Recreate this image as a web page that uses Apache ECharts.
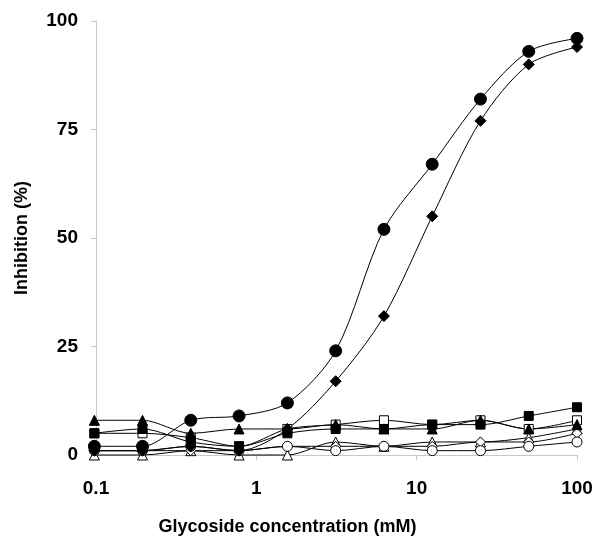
<!DOCTYPE html>
<html>
<head>
<meta charset="utf-8">
<script src="https://cdn.jsdelivr.net/npm/echarts@6/dist/echarts.min.js"></script>
<style>html,body{margin:0;padding:0;background:#fff;}#c{width:600px;height:542px;}</style>
</head>
<body>
<div id="c"></div>
<script>
var concentrations = [0.0977, 0.195, 0.39, 0.78, 1.5625, 3.125, 6.25, 12.5, 25, 50, 100];
var filledTriangle = [8, 8, 5, 6, 6, 7, 6, 6, 8, 6, 7];
var filledSquare   = [5, 6, 3, 2, 5, 6, 6, 7, 7, 9, 11];
var openSquare     = [5, 5, 4, 2, 6, 7, 8, 7, 8, 6, 8];
var openTriangle   = [0, 0, 1, 0, 0, 3, 2, 3, 3, 4, 6];
var openDiamond    = [1, 1, 1, 1, 2, 2, 2, 2, 3, 3, 5];
var openCircle     = [1, 1, 2, 1, 2, 1, 2, 1, 1, 2, 3];
var filledDiamond  = [1, 1, 2, 1, 6, 17, 32, 55, 77, 90, 94];
var filledCircle   = [2, 2, 8, 9, 12, 24, 52, 67, 82, 93, 96];
var yTicks = [0, 25, 50, 75, 100];

function pairs(vals) { return concentrations.map(function (x, i) { return [x, vals[i]]; }); }
function mk(name, vals, symbol, size, filled) {
  return {
    name: name, type: 'line', data: pairs(vals), smooth: 0.3, clip: false,
    symbol: symbol, symbolSize: size, showSymbol: true,
    lineStyle: { color: '#000', width: 1 },
    itemStyle: { color: filled ? '#000' : '#fff', borderColor: '#000', borderWidth: 1 },
    emphasis: { disabled: true }
  };
}
var chart = echarts.init(document.getElementById('c'), null, { renderer: 'canvas' });
var FONT = 'Liberation Sans, Arial, sans-serif';
var labelFont = { color: '#000', fontWeight: 'bold', fontSize: 19, fontFamily: FONT };
chart.setOption({
  animation: false,
  backgroundColor: '#fff',
  grid: { left: 96, right: 23, top: 21, bottom: 87 },
  xAxis: {
    type: 'log', logBase: 10, min: 0.1, max: 100,
    name: 'Glycoside concentration (mM)', nameLocation: 'middle', nameGap: 63,
    nameTextStyle: { color: '#000', fontWeight: 'bold', fontSize: 18, fontFamily: FONT, padding: [0, 98, 0, 0] },
    axisLine: { lineStyle: { color: '#c8c8c8', width: 1 } },
    axisTick: { show: true, length: 5, inside: false, lineStyle: { color: '#c8c8c8' } },
    minorTick: { show: false },
    splitLine: { show: false },
    axisLabel: Object.assign({ margin: 24, formatter: function (v) { return String(+v.toPrecision(3)); } }, labelFont)
  },
  yAxis: {
    type: 'value', min: 0, max: 100, interval: 25,
    name: 'Inhibition (%)', nameLocation: 'middle', nameGap: 65, nameRotate: 90,
    nameTextStyle: { color: '#000', fontWeight: 'bold', fontSize: 18, fontFamily: FONT },
    axisLine: { show: true, lineStyle: { color: '#c8c8c8', width: 1 } },
    axisTick: { show: true, length: 5, lineStyle: { color: '#c8c8c8' } },
    splitLine: { show: false },
    axisLabel: Object.assign({ margin: 18, formatter: function (v) { return yTicks.indexOf(v) >= 0 ? String(v) : ''; } }, labelFont)
  },
  series: [
    mk('open triangle', openTriangle, 'triangle', 10, false),
    mk('open diamond', openDiamond, 'diamond', 10, false),
    mk('open circle', openCircle, 'circle', 10, false),
    mk('open square', openSquare, 'rect', 9, false),
    mk('filled triangle', filledTriangle, 'triangle', 10, true),
    mk('filled square', filledSquare, 'rect', 9, true),
    mk('filled diamond', filledDiamond, 'diamond', 11, true),
    mk('filled circle', filledCircle, 'circle', 12, true)
  ]
});
</script>
</body>
</html>
